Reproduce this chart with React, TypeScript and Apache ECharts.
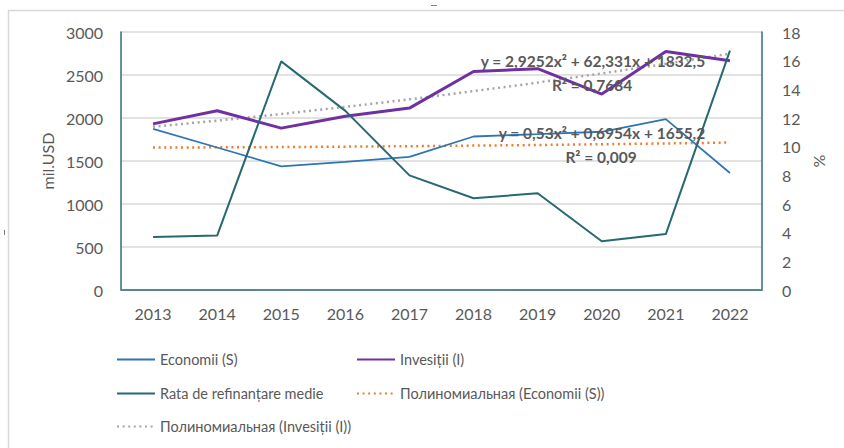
import React, { useEffect, useRef } from "react";
import * as echarts from "echarts";

const years = ["2013", "2014", "2015", "2016", "2017", "2018", "2019", "2020", "2021", "2022"];
const economii = [1874, 1657, 1438, 1490, 1548, 1785, 1812, 1840, 1987, 1360];
const investitii = [1932, 2084, 1882, 2020, 2115, 2541, 2573, 2278, 2774, 2666];
const rata = [3.7, 3.8, 15.95, 12.5, 8.0, 6.4, 6.75, 3.4, 3.9, 16.7];
const trendEconomii = [1656, 1659, 1662, 1667, 1672, 1679, 1686, 1695, 1704, 1715];
const trendInvestitii = [1898, 1969, 2046, 2129, 2217, 2312, 2412, 2518, 2630, 2748];
const leftTicks = [0, 500, 1000, 1500, 2000, 2500, 3000];
const rightTicks = [0, 2, 4, 6, 8, 10, 12, 14, 16, 18];

const names = {
  s: "Economii (S)",
  i: "Invesiții (I)",
  r: "Rata de refinanțare medie",
  ts: "Полиномиальная (Economii (S))",
  ti: "Полиномиальная (Invesiții (I))",
};

const FONT = "Lato, 'Noto Sans', sans-serif";
const GRAY_TEXT = "#595959";
const FRAME = "#2f6f74";

export default function App() {
  const ref = useRef<HTMLDivElement>(null);
  useEffect(() => {
    if (!ref.current) return;
    const chart = echarts.init(ref.current, undefined, { renderer: "svg" });
    const legendBase = {
      itemWidth: 38,
      itemHeight: 14,
      itemStyle: { opacity: 0 },
      textStyle: { fontFamily: FONT, fontSize: 14.5, color: GRAY_TEXT },
      selectedMode: false,
      padding: 0,
    };
    const axisLabel = {
      fontFamily: FONT,
      fontSize: 16,
      color: GRAY_TEXT,
      formatter: (v: number | string) => String(v),
    };
    const eqStyle = {
      fontFamily: FONT,
      fontSize: 15.5,
      fontWeight: "bold",
      fill: GRAY_TEXT,
      align: "center",
      verticalAlign: "middle",
    };
    chart.setOption({
      animation: false,
      backgroundColor: "#ffffff",
      grid: { left: 121, right: 82, top: 32, bottom: 158 },
      xAxis: [
        {
          type: "category",
          data: years,
          boundaryGap: true,
          axisLine: { lineStyle: { color: "#d9d9d9", width: 1.5 } },
          axisTick: { show: false },
          axisLabel: { ...axisLabel, margin: 15 },
        },
        {
          type: "category",
          data: years,
          position: "top",
          axisLine: { lineStyle: { color: FRAME, width: 1.5 } },
          axisTick: { show: false },
          axisLabel: { show: false },
        },
      ],
      yAxis: [
        {
          type: "value",
          min: leftTicks[0],
          max: leftTicks[leftTicks.length - 1],
          interval: 500,
          name: "mil.USD",
          nameLocation: "middle",
          nameGap: 66,
          nameMoveOverlap: false,
          nameTextStyle: { fontFamily: FONT, fontSize: 16, color: GRAY_TEXT },
          axisLine: { show: true, lineStyle: { color: FRAME, width: 1.5 } },
          axisTick: { show: false },
          axisLabel: { ...axisLabel, margin: 18 },
          splitLine: { lineStyle: { color: "#d9d9d9", width: 1.5 } },
        },
        {
          type: "value",
          min: rightTicks[0],
          max: rightTicks[rightTicks.length - 1],
          interval: 2,
          name: "%",
          nameLocation: "middle",
          nameGap: 48,
          nameMoveOverlap: false,
          nameTextStyle: { fontFamily: FONT, fontSize: 16, color: GRAY_TEXT },
          axisLine: { show: true, lineStyle: { color: FRAME, width: 1.5 } },
          axisTick: { show: false },
          axisLabel: { ...axisLabel, margin: 20 },
          splitLine: { show: false },
        },
      ],
      legend: [
        { ...legendBase, data: [names.s], left: 116, top: 352 },
        { ...legendBase, data: [names.i], left: 356, top: 352 },
        { ...legendBase, data: [names.r], left: 116, top: 386 },
        { ...legendBase, data: [names.ts], left: 356, top: 386 },
        { ...legendBase, data: [names.ti], left: 116, top: 419 },
      ],
      series: [
        {
          name: names.ts,
          type: "line",
          data: trendEconomii,
          symbol: "none",
          lineStyle: { color: "#ed7d31", width: 2.5, type: [2, 3.6] },
          itemStyle: { color: "#ed7d31" },
          z: 2,
        },
        {
          name: names.ti,
          type: "line",
          data: trendInvestitii,
          symbol: "none",
          lineStyle: { color: "#a5a5a5", width: 2.5, type: [2, 3.6] },
          itemStyle: { color: "#a5a5a5" },
          z: 2,
        },
        {
          name: names.s,
          type: "line",
          data: economii,
          symbol: "none",
          lineStyle: { color: "#2e75b6", width: 1.8 },
          itemStyle: { color: "#2e75b6" },
          z: 3,
        },
        {
          name: names.i,
          type: "line",
          data: investitii,
          symbol: "none",
          lineStyle: { color: "#7030a0", width: 3 },
          itemStyle: { color: "#7030a0" },
          z: 3,
        },
        {
          name: names.r,
          type: "line",
          yAxisIndex: 1,
          data: rata,
          symbol: "none",
          lineStyle: { color: "#276970", width: 2 },
          itemStyle: { color: "#276970" },
          z: 3,
        },
      ],
      graphic: [
        {
          type: "rect",
          shape: { x: 8.5, y: 10.5, width: 900, height: 500 },
          style: { fill: "none", stroke: "#d9d9d9", lineWidth: 1.5 },
          silent: true,
          z: -10,
        },
        {
          type: "line",
          shape: { x1: 431, y1: 5.5, x2: 437, y2: 5.5 },
          style: { stroke: "#808080", lineWidth: 1 },
        },
        {
          type: "line",
          shape: { x1: 4.5, y1: 230, x2: 4.5, y2: 235 },
          style: { stroke: "#808080", lineWidth: 1 },
        },
        { type: "text", x: 593, y: 61, style: { ...eqStyle, text: "y = 2,9252x² + 62,331x + 1832,5" }, z: 10 },
        { type: "text", x: 592, y: 85, style: { ...eqStyle, text: "R² = 0,7684" }, z: 10 },
        { type: "text", x: 602, y: 133, style: { ...eqStyle, text: "y = 0,53x² + 0,6954x + 1655,2" }, z: 10 },
        { type: "text", x: 601, y: 157, style: { ...eqStyle, text: "R² = 0,009" }, z: 10 },
      ],
    });
    return () => chart.dispose();
  }, []);
  return (
    <div
      ref={ref}
      style={{ position: "fixed", left: 0, top: 0, width: 844, height: 448 }}
    />
  );
}
